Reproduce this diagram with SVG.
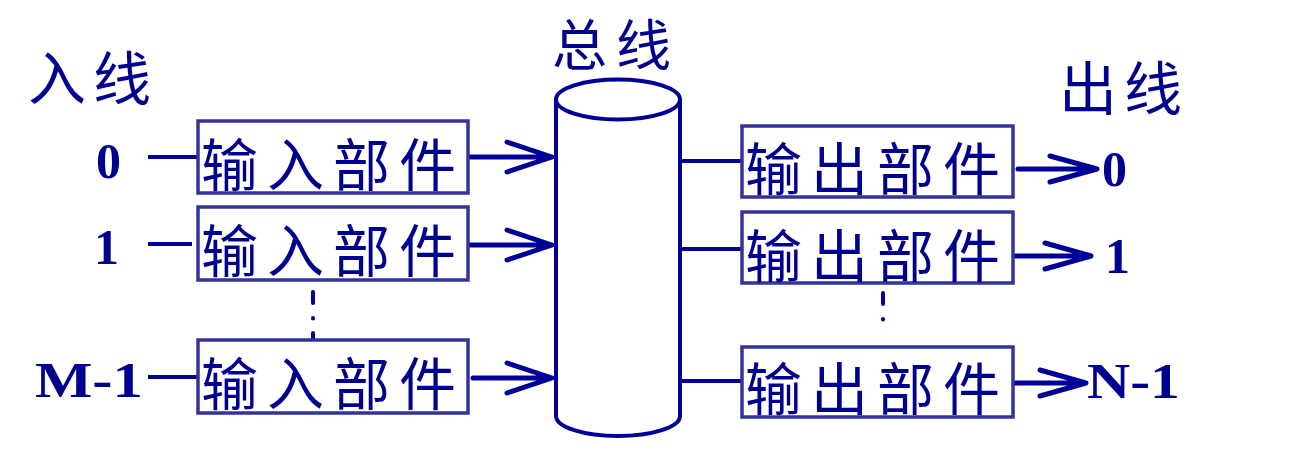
<svg xmlns="http://www.w3.org/2000/svg" width="1310" height="456" viewBox="0 0 1310 456">
<defs>
<style>
.cjk{font-family:"Noto Sans CJK SC","Noto Sans CJK JP",sans-serif;fill:#000090;}
.box{fill:#fff;stroke:#333399;stroke-width:3.5;}
.boxt{font-size:57px;letter-spacing:9px;}
.hdr{font-size:58px;letter-spacing:7px;}
.hdr2{font-size:55px;letter-spacing:9px;}
.num{font-family:"Liberation Serif","Times New Roman",serif;font-weight:bold;font-size:50px;fill:#000090;}
.ln{stroke:#000099;stroke-width:4;fill:none;}
.arr{stroke:#000099;stroke-width:5;fill:none;stroke-linecap:round;stroke-linejoin:round;}
.dot{stroke:#000099;stroke-width:4;stroke-linecap:round;fill:none;}
</style>
</defs>
<rect width="1310" height="456" fill="#fff"/>

<g id="labels">
<text class="cjk hdr" x="28" y="100">入线</text>
<text class="cjk hdr2" x="552" y="65">总线</text>
<text class="cjk hdr" x="1059" y="110">出线</text>
<text class="num" x="121" y="178" text-anchor="end">0</text>
<text class="num" x="119" y="264" text-anchor="end">1</text>
<text class="num" x="143" y="397" text-anchor="end" textLength="108" lengthAdjust="spacingAndGlyphs">M-1</text>
<text class="num" x="1102" y="186">0</text>
<text class="num" x="1105" y="273">1</text>
<text class="num" x="1087" y="398" textLength="93" lengthAdjust="spacingAndGlyphs">N-1</text>
</g>

<g id="bus">
<path d="M556,99 L556,416 A62,20 0 0 0 680,416 L680,99" fill="#fff" stroke="#000099" stroke-width="4"/>
<ellipse cx="618" cy="99.5" rx="62" ry="20" fill="#fff" stroke="#000099" stroke-width="4"/>
</g>

<g id="connectors">
<line class="ln" x1="148" y1="157" x2="198" y2="157"/>
<line class="ln" x1="148" y1="244" x2="192" y2="244"/>
<line class="ln" x1="148" y1="377" x2="198" y2="377"/>
<path class="arr" d="M468,157 H551 M507,142 L552,157 L507,172"/>
<path class="arr" d="M468,245 H551 M507,230 L552,245 L507,260"/>
<path class="arr" d="M473,378 H551 M507,363 L552,378 L507,393"/>
<line class="ln" x1="680" y1="161" x2="742" y2="161"/>
<line class="ln" x1="680" y1="249" x2="742" y2="249"/>
<line class="ln" x1="680" y1="381" x2="742" y2="381"/>
<path class="arr" d="M1018,169 H1096 M1050,156 L1097,169 L1050,182"/>
<path class="arr" d="M1013,256 H1090 M1045,243 L1091,256 L1045,269"/>
<path class="arr" d="M1013,383 H1085 M1040,370 L1086,383 L1040,396"/>
<path class="dot" d="M313,292 V303 M313,318 V318.5 M313,333 V341"/>
<path class="dot" d="M883,293 V304 M883,319 V319.5"/>
</g>

<g id="in0"><rect class="box" x="198" y="121" width="270" height="72"/><text class="cjk boxt" x="201" y="186">输入部件</text></g>
<g id="in1"><rect class="box" x="198" y="207" width="270" height="73"/><text class="cjk boxt" x="201" y="272">输入部件</text></g>
<g id="inM"><rect class="box" x="198" y="340" width="270" height="73"/><text class="cjk boxt" x="201" y="405">输入部件</text></g>
<g id="out0"><rect class="box" x="742" y="126" width="271" height="71"/><text class="cjk boxt" x="745" y="190">输出部件</text></g>
<g id="out1"><rect class="box" x="742" y="212" width="271" height="71"/><text class="cjk boxt" x="745" y="277">输出部件</text></g>
<g id="outN"><rect class="box" x="742" y="347" width="271" height="70"/><text class="cjk boxt" x="745" y="410">输出部件</text></g>
</svg>
